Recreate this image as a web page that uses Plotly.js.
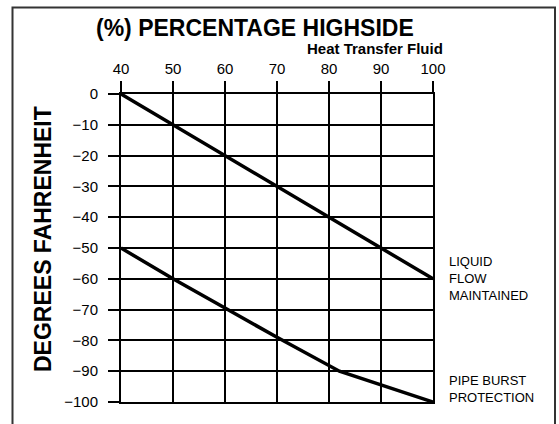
<!DOCTYPE html>
<html>
<head>
<meta charset="utf-8">
<script src="https://cdn.plot.ly/plotly-3.0.1.min.js"></script>
<style>html,body{margin:0;padding:0;background:#fff;}#chart{width:559px;height:424px;}</style>
</head>
<body>
<div id="chart"></div>
<script>
// Data
var percentHighside = [40, 50, 60, 70, 80, 90, 100];
var liquidFlowMaintained = [0, -10, -20, -30, -40, -50, -60];
var pipeBurstX = [40, 50, 60, 70, 82, 90, 100];
var pipeBurstProtection = [-50, -60, -69.5, -79, -90, -94.5, -100];
var xTicks = [40, 50, 60, 70, 80, 90, 100];
var yTicks = [0, -10, -20, -30, -40, -50, -60, -70, -80, -90, -100];
var seriesLabels = ['LIQUID<br>FLOW<br>MAINTAINED', 'PIPE BURST<br>PROTECTION'];

var FONT = 'Liberation Sans, Arial, Helvetica, sans-serif';
var W = 559, H = 424;
var L = 121, R = 126, T = 94, B = 22;
var pw = W - L - R, ph = H - T - B;
function px(x) { return (x - L) / pw; }
function py(y) { return (H - B - y) / ph; }

var traces = [
  {x: percentHighside, y: liquidFlowMaintained, type: 'scatter', mode: 'lines',
   line: {color: '#000', width: 3.5}, hoverinfo: 'skip', showlegend: false},
  {x: pipeBurstX, y: pipeBurstProtection, type: 'scatter', mode: 'lines',
   line: {color: '#000', width: 3.5}, hoverinfo: 'skip', showlegend: false}
];

var axisCommon = {
  ticks: 'outside', ticklen: 11, tickwidth: 2, tickcolor: '#000',
  showgrid: true, gridcolor: '#000', gridwidth: 2,
  showline: true, linecolor: '#000', linewidth: 2, mirror: true,
  zeroline: false, tickfont: {family: FONT, size: 15, color: '#000'},
  fixedrange: true
};

var layout = {
  width: W, height: H,
  margin: {l: L, r: R, t: T, b: B, pad: 0},
  paper_bgcolor: '#fff', plot_bgcolor: '#fff',
  xaxis: Object.assign({}, axisCommon, {side: 'top', range: [40, 100], tickmode: 'array', tickvals: xTicks, ticklabelstandoff: 1}),
  yaxis: Object.assign({}, axisCommon, {range: [-100, 0], tickmode: 'array', tickvals: yTicks, ticklabelstandoff: 7}),
  shapes: [
    {type: 'rect', xref: 'paper', yref: 'paper', x0: px(12.5), x1: px(555), y0: py(440), y1: py(7.5),
     line: {color: '#333', width: 2}, fillcolor: 'rgba(0,0,0,0)', layer: 'below'}
  ],
  annotations: [
    {text: '<b>(%) PERCENTAGE HIGHSIDE</b>', xref: 'paper', yref: 'paper', x: px(254.5), y: py(28),
     xanchor: 'center', yanchor: 'middle', showarrow: false, font: {family: FONT, size: 23, color: '#000'}},
    {text: '<b>Heat Transfer Fluid</b>', xref: 'paper', yref: 'paper', x: px(445), y: py(48),
     xanchor: 'right', yanchor: 'middle', showarrow: false, font: {family: FONT, size: 15, color: '#000'}},
    {text: '<b>DEGREES FAHRENHEIT</b>', xref: 'paper', yref: 'paper', x: px(42.5), y: py(239.5),
     xanchor: 'center', yanchor: 'middle', textangle: -90, showarrow: false, font: {family: FONT, size: 23, color: '#000'}},
    {text: seriesLabels[0], xref: 'paper', yref: 'paper', x: px(447), y: py(278.5),
     xanchor: 'left', yanchor: 'middle', align: 'left', showarrow: false, font: {family: FONT, size: 13, color: '#000'}},
    {text: seriesLabels[1], xref: 'paper', yref: 'paper', x: px(447), y: py(388.5),
     xanchor: 'left', yanchor: 'middle', align: 'left', showarrow: false, font: {family: FONT, size: 13, color: '#000'}}
  ]
};

Plotly.newPlot('chart', traces, layout, {displayModeBar: false, staticPlot: true});
</script>
</body>
</html>
